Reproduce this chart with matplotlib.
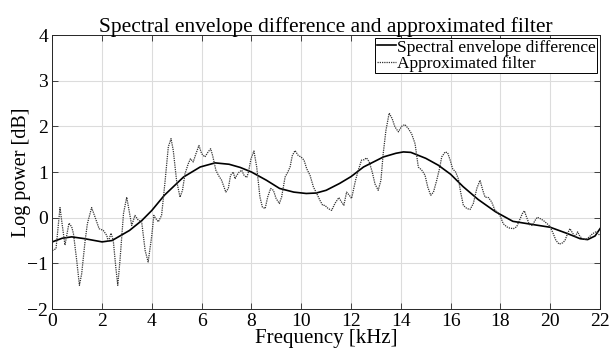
import numpy as np
import matplotlib

matplotlib.use("Agg")
import matplotlib.pyplot as plt

plt.rcParams["font.family"] = ["Liberation Serif", "DejaVu Serif"]
plt.rcParams["mathtext.fontset"] = "stix"

# spectral envelope difference (smooth curve)
env_freq = [0.0, 0.4, 0.78, 1.3, 2.0, 2.4, 3.1, 3.6, 4.0, 4.5, 5.27, 5.94, 6.54, 7.1,
            7.55, 8.0, 8.6, 9.13, 9.7, 10.2, 10.6, 11.0, 11.54, 12.0, 12.5, 13.3, 13.8,
            14.1, 14.4, 15.0, 15.5, 16.0, 16.5, 17.1, 17.8, 18.5, 19.3, 20.0, 20.7,
            21.2, 21.5, 21.8, 22.0]
env_vals = [-0.53, -0.45, -0.42, -0.46, -0.53, -0.5, -0.28, -0.06, 0.16, 0.49, 0.89, 1.11,
            1.2, 1.17, 1.1, 1.0, 0.82, 0.64, 0.56, 0.53, 0.54, 0.6, 0.75, 0.9, 1.11, 1.33,
            1.41, 1.44, 1.43, 1.3, 1.15, 0.95, 0.68, 0.4, 0.13, -0.08, -0.15, -0.21, -0.35,
            -0.46, -0.48, -0.4, -0.24]

# approximated filter (dotted curve)
filt_freq = [0.0, 0.15, 0.31, 0.41, 0.51, 0.67, 0.78, 0.85, 0.98, 1.09, 1.18, 1.32, 1.41,
             1.58, 1.72, 1.88, 2.05, 2.19, 2.25, 2.36, 2.45, 2.55, 2.63, 2.72, 2.86, 2.99,
             3.12, 3.19, 3.32, 3.46, 3.59, 3.73, 3.85, 3.99, 4.08, 4.16, 4.26, 4.39, 4.52,
             4.66, 4.77, 4.86, 4.99, 5.13, 5.23, 5.33, 5.46, 5.55, 5.66, 5.77, 5.89, 6.0,
             6.13, 6.26, 6.36, 6.44, 6.57, 6.67, 6.8, 6.97, 7.07, 7.16, 7.27, 7.34, 7.41,
             7.51, 7.61, 7.7, 7.81, 7.88, 7.98, 8.1, 8.21, 8.34, 8.44, 8.55, 8.65, 8.77,
             8.88, 8.99, 9.12, 9.21, 9.35, 9.46, 9.55, 9.64, 9.75, 9.88, 9.99, 10.11, 10.22,
             10.35, 10.49, 10.62, 10.75, 10.86, 10.95, 11.08, 11.22, 11.35, 11.51, 11.62,
             11.71, 11.82, 11.93, 12.02, 12.09, 12.18, 12.29, 12.42, 12.53, 12.62, 12.73,
             12.85, 12.96, 13.09, 13.2, 13.29, 13.4, 13.53, 13.65, 13.76, 13.9, 14.03, 14.16,
             14.3, 14.43, 14.57, 14.7, 14.84, 14.97, 15.08, 15.2, 15.31, 15.44, 15.55, 15.64,
             15.78, 15.88, 15.98, 16.08, 16.2, 16.31, 16.4, 16.51, 16.65, 16.78, 16.91, 17.05,
             17.18, 17.29, 17.38, 17.52, 17.65, 17.78, 17.88, 17.98, 18.11, 18.25, 18.38,
             18.52, 18.65, 18.76, 18.88, 18.96, 19.05, 19.16, 19.28, 19.39, 19.48, 19.59,
             19.72, 19.85, 19.99, 20.12, 20.23, 20.36, 20.5, 20.59, 20.7, 20.79, 20.9, 21.0,
             21.1, 21.19, 21.3, 21.43, 21.57, 21.7, 21.84, 22.0]
filt_vals = [-0.72, -0.68, 0.22, -0.2, -0.6, -0.12, -0.2, -0.35, -0.93, -1.48, -1.23, -0.5,
             -0.13, 0.22, 0.01, -0.24, -0.28, -0.39, -0.53, -0.34, -0.5, -1.08, -1.48, -0.93,
             0.09, 0.45, 0.05, -0.17, 0.05, -0.06, -0.09, -0.72, -0.97, -0.42, 0.05, -0.02,
             -0.09, 0.05, 0.74, 1.55, 1.73, 1.47, 0.82, 0.45, 0.6, 0.96, 1.18, 1.29, 1.22,
             1.4, 1.58, 1.4, 1.33, 1.44, 1.51, 1.36, 1.04, 0.93, 0.82, 0.56, 0.64, 0.93, 1.0,
             0.85, 0.93, 1.0, 1.04, 0.93, 0.88, 1.0, 1.29, 1.46, 1.11, 0.45, 0.23, 0.2, 0.45,
             0.64, 0.6, 0.42, 0.31, 0.45, 0.89, 1.0, 1.11, 1.36, 1.47, 1.36, 1.33, 1.26, 1.07,
             0.93, 0.67, 0.53, 0.38, 0.27, 0.27, 0.2, 0.16, 0.31, 0.44, 0.34, 0.27, 0.56,
             0.49, 0.42, 0.6, 0.82, 1.04, 1.26, 1.27, 1.31, 1.22, 1.0, 0.74, 0.6, 0.82, 1.4,
             1.91, 2.29, 2.17, 1.99, 1.88, 2.0, 2.04, 1.95, 1.84, 1.62, 1.11, 1.04, 0.93, 0.67,
             0.49, 0.56, 0.82, 1.07, 1.33, 1.44, 1.42, 1.26, 1.07, 1.0, 0.85, 0.56, 0.27, 0.2,
             0.18, 0.31, 0.64, 0.82, 0.6, 0.45, 0.44, 0.34, 0.16, 0.12, 0.05, -0.13, -0.2,
             -0.23, -0.24, -0.2, -0.06, 0.09, 0.15, 0.01, -0.15, -0.17, -0.06, 0.01, -0.02,
             -0.06, -0.12, -0.19, -0.35, -0.5, -0.58, -0.55, -0.5, -0.34, -0.24, -0.34, -0.42,
             -0.31, -0.41, -0.46, -0.48, -0.42, -0.35, -0.31, -0.39]

xticks = list(range(0, 23, 2))
yticks = [-2, -1, 0, 1, 2, 3, 4]

fig = plt.figure(figsize=(6.1, 3.61), dpi=100)
ax = fig.add_axes([0.0857, 0.144, 0.898, 0.759])

ax.plot(env_freq, env_vals, color="black", linewidth=1.2, label="Spectral envelope difference")
ax.plot(filt_freq, filt_vals, color="#333333", linewidth=0.9, linestyle=(0, (1, 0.8)),
        label="Approximated filter")

ax.set_xlim(0, 22)
ax.set_ylim(-2, 4)
ax.set_xticks(xticks)
ax.set_yticks(yticks)
ax.grid(True, color="#dcdcdc", linewidth=0.8)
ax.set_axisbelow(True)
ax.tick_params(direction="in", top=True, right=True, labelsize=14, length=4, width=0.6,
               color="#262626", pad=3)
for s in ax.spines.values():
    s.set_linewidth(0.7)
    s.set_color("#262626")

ax.set_title("Spectral envelope difference and approximated filter", fontsize=15.5, pad=2)
ax.set_xlabel("Frequency [kHz]", fontsize=15, labelpad=-1)
ax.set_ylabel("Log power [dB]", fontsize=14.5, labelpad=-3)

leg = ax.legend(loc="upper right", fontsize=12.5, frameon=True, fancybox=False,
                borderpad=0.1, handlelength=1.1, handletextpad=0.05, labelspacing=0.0,
                borderaxespad=0.15)
leg.get_frame().set_edgecolor("black")
leg.get_frame().set_linewidth(0.7)
leg.get_frame().set_alpha(1)

fig.savefig("out.png", dpi=100)
